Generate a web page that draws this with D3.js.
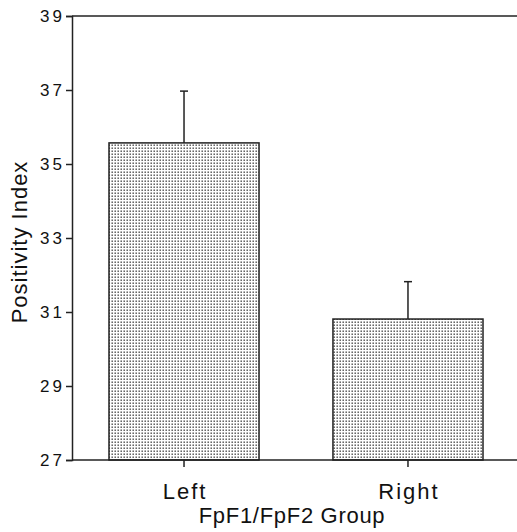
<!DOCTYPE html>
<html>
<head>
<meta charset="utf-8">
<script src="https://cdn.jsdelivr.net/npm/d3@7"></script>
<style>
  body { margin: 0; background: #fff; }
  svg { display: block; font-family: "Liberation Sans", Arial, sans-serif; }
</style>
</head>
<body>
<svg id="chart" width="517" height="532"></svg>
<script>
// values
var groups = ["Left", "Right"];
var means = [35.57, 30.81];
var errTop = [36.97, 31.82];
var yTicks = [27, 29, 31, 33, 35, 37, 39];

var svg = d3.select("#chart");
var plotL = 72, plotR = 517, plotT = 16, plotB = 460;
var font = "'Liberation Sans', Arial, sans-serif";

var x = d3.scaleBand()
    .domain(groups)
    .range([75.4, 516.6])
    .paddingInner(0.33)
    .paddingOuter(0.15);

var y = d3.scaleLinear()
    .domain([27, 39])
    .range([plotB, plotT]);

// stipple fill
var pat = svg.append("defs").append("pattern")
    .attr("id", "dots")
    .attr("patternUnits", "userSpaceOnUse")
    .attr("width", 3)
    .attr("height", 3);
pat.append("rect").attr("width", 3).attr("height", 3).attr("fill", "#fff");
pat.append("rect").attr("x", 0.5).attr("y", 0.5).attr("width", 1.4).attr("height", 1.4).attr("fill", "#444");

// bars
svg.selectAll("rect.bar")
    .data(groups)
    .enter().append("rect")
    .attr("class", "bar")
    .attr("x", function(d){ return x(d); })
    .attr("y", function(d, i){ return y(means[i]); })
    .attr("width", x.bandwidth())
    .attr("height", function(d, i){ return plotB - y(means[i]); })
    .attr("fill", "url(#dots)")
    .attr("stroke", "#222")
    .attr("stroke-width", 1.5);

// error bars (upper only)
var eb = svg.selectAll("g.err")
    .data(groups)
    .enter().append("g")
    .attr("class", "err")
    .attr("stroke", "#222")
    .attr("stroke-width", 1.5);

eb.append("line")
    .attr("x1", function(d){ return x(d) + x.bandwidth()/2; })
    .attr("x2", function(d){ return x(d) + x.bandwidth()/2; })
    .attr("y1", function(d, i){ return y(means[i]); })
    .attr("y2", function(d, i){ return y(errTop[i]); });

eb.append("line")
    .attr("x1", function(d){ return x(d) + x.bandwidth()/2 - 4; })
    .attr("x2", function(d){ return x(d) + x.bandwidth()/2 + 4; })
    .attr("y1", function(d, i){ return y(errTop[i]); })
    .attr("y2", function(d, i){ return y(errTop[i]); });

// top frame line
svg.append("line")
    .attr("x1", plotL).attr("x2", plotR)
    .attr("y1", plotT).attr("y2", plotT)
    .attr("stroke", "#222").attr("stroke-width", 1.5);

// y axis
var yAxis = svg.append("g")
    .attr("transform", "translate(" + plotL + ",0)")
    .call(d3.axisLeft(y).tickValues(yTicks).tickSize(6).tickPadding(1));
yAxis.select(".domain").attr("stroke", "#222").attr("stroke-width", 1.5);
yAxis.selectAll(".tick line").attr("stroke", "#222").attr("stroke-width", 1.5);
yAxis.selectAll(".tick text")
    .attr("fill", "#111")
    .style("font-family", font)
    .style("font-size", "17px")
    .style("letter-spacing", "3px");

// x axis
var xAxis = svg.append("g")
    .attr("transform", "translate(0," + plotB + ")")
    .call(d3.axisBottom(x).tickSize(7).tickPadding(16));
xAxis.select(".domain").attr("d", "M" + plotL + ",0H" + plotR).attr("stroke", "#222").attr("stroke-width", 1.5);
xAxis.selectAll(".tick line").attr("stroke", "#222").attr("stroke-width", 1.5);
xAxis.selectAll(".tick text")
    .attr("fill", "#111")
    .attr("dx", 1)
    .style("font-family", font)
    .style("font-size", "22px")
    .style("letter-spacing", "2px");

// axis titles
svg.append("text")
    .attr("x", 292)
    .attr("y", 523)
    .attr("text-anchor", "middle")
    .attr("fill", "#111")
    .style("font-size", "22px")
    .style("letter-spacing", "0.7px")
    .text("FpF1/FpF2 Group");

svg.append("text")
    .attr("transform", "translate(27,242) rotate(-90)")
    .attr("text-anchor", "middle")
    .attr("fill", "#111")
    .style("font-size", "22px")
    .style("letter-spacing", "1px")
    .text("Positivity  Index");
</script>
</body>
</html>
